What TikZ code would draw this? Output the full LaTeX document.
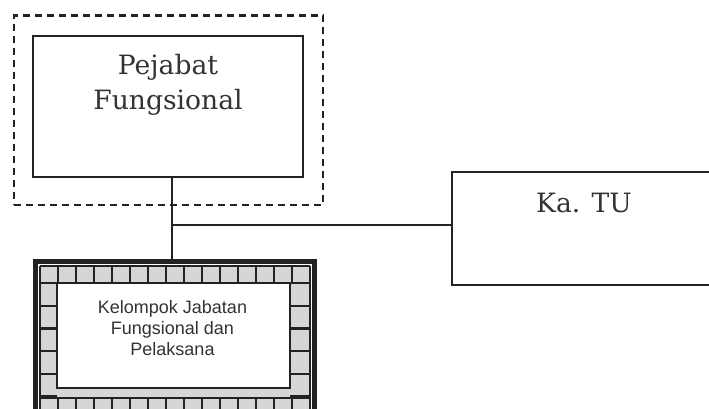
\documentclass[tikz,border=0pt]{standalone}
\usepackage{fontspec}
\setmainfont{DejaVu Serif}
\newfontfamily\labelsans{Liberation Sans}
\definecolor{ink}{HTML}{222222}
\definecolor{txt}{HTML}{333333}
\definecolor{cell}{HTML}{D6D6D6}
\begin{document}
\begin{tikzpicture}[x=1pt,y=-1pt,
  box/.style={draw=ink, line width=2.4pt, rectangle, inner sep=0pt},
  dashframe/.style={draw=ink, line width=2.4pt, dash pattern=on 7pt off 5pt, rectangle, inner sep=0pt},
  link/.style={draw=ink, line width=2pt},
  serifttl/.style={text=txt, font=\fontsize{26.6}{35}\selectfont, align=center, inner sep=0pt, anchor=base},
  sanslbl/.style={text=txt, font=\labelsans\fontsize{18}{21}\selectfont, align=center, inner sep=0pt, anchor=base},
  gridline/.style={draw=ink, line width=2.3pt}]

\useasboundingbox (0,0) rectangle (709,409);
\fill[white] (0,0) rectangle (709,409);
\clip (0,0) rectangle (709,409);

% dashed frame around the functional officer
\node[dashframe, minimum width=309pt, minimum height=189.5pt] (frame) at (168.5,110.25) {};

% Pejabat Fungsional (base anchor = baseline of the last line)
\node[box, minimum width=270pt, minimum height=141pt] (pej) at (168,106.5) {};
\node[serifttl] (pejtxt) at (168,110) {Pejabat\\Fungsional};

% Ka. TU
\node[box, minimum width=290pt, minimum height=113pt] (katu) at (597,228.5) {};
\node[serifttl] (katutxt) at (584,212) {Ka. TU};

% Kelompok Jabatan Fungsional dan Pelaksana: checkered band
\fill[cell] (40,266) rectangle (310,430);
\foreach \k in {0,...,15}
  \draw[gridline] ({40+18*\k},266) -- ({40+18*\k},283)
                  ({40+18*\k},398) -- ({40+18*\k},430);
\foreach \k in {0,...,5}
  \draw[gridline] (40,{283+22.7*\k}) -- (57,{283+22.7*\k})
                  (290,{283+22.7*\k}) -- (310,{283+22.7*\k});
\draw[gridline] (40,266) -- (40,430) (310,266) -- (310,430)
                (40,266) -- (310,266) (40,398) -- (310,398);
\node[box, fill=white, line width=2pt, minimum width=233pt, minimum height=105pt] (kel) at (173.5,335.5) {};
\node[sanslbl] (keltxt) at (172.5,355) {Kelompok Jabatan\\Fungsional dan\\Pelaksana};
\node[draw=ink, line width=5pt, rectangle, inner sep=0pt, minimum width=279pt, minimum height=168.5pt] (kelframe) at (175,345.75) {};

% connectors
\coordinate (j) at (172,225);
\draw[link] (j |- pej.south) -- (j |- kelframe.north);
\draw[link] (j) -- (j -| katu.west);
\end{tikzpicture}
\end{document}
